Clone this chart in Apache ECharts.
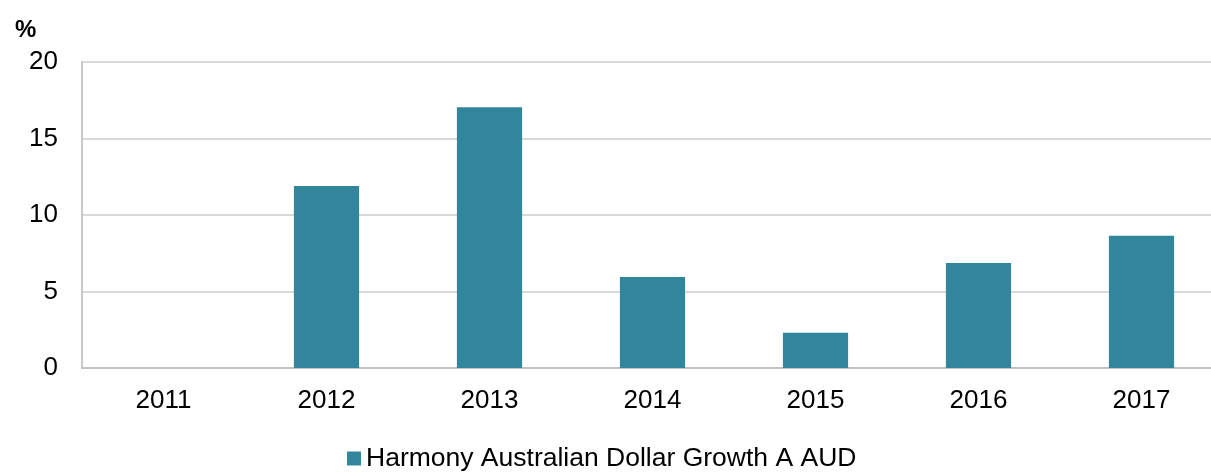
<!DOCTYPE html>
<html>
<head>
<meta charset="utf-8">
<script src="https://cdn.jsdelivr.net/npm/echarts@6/dist/echarts.min.js"></script>
<style>
  html, body { margin: 0; padding: 0; background: #fff; }
  #chart { width: 1211px; height: 473px; }
</style>
</head>
<body>
<div id="chart"></div>
<script>
const years = ['2011', '2012', '2013', '2014', '2015', '2016', '2017']
const growth = [null, 11.9, 17.05, 5.95, 2.3, 6.87, 8.65]
const seriesName = 'Harmony Australian Dollar Growth A AUD'

const chart = echarts.init(document.getElementById('chart'))

chart.setOption({
  animation: false,
  textStyle: { fontFamily: 'Liberation Sans, Arial, sans-serif' },
  title: {
    text: '%',
    left: 10,
    top: 13,
    textStyle: { fontSize: 24, fontWeight: 'bold', color: '#000' }
  },
  legend: {
    bottom: -4,
    left: 342,
    itemWidth: 14,
    itemHeight: 14,
    itemGap: 10,
    icon: 'rect',
    textStyle: { fontSize: 26.5, color: '#000' },
    data: [seriesName]
  },
  // plot runs past the right edge of the picture
  grid: { left: 82, width: 1141, top: 62, height: 306, outerBoundsMode: 'none' },
  xAxis: {
    type: 'category',
    data: years,
    axisLine: { lineStyle: { color: '#c0c0c0', width: 2 } },
    axisTick: { show: false },
    axisLabel: { color: '#000', fontSize: 26, margin: 20 }
  },
  yAxis: {
    type: 'value',
    min: 0,
    max: 20,
    interval: 5,
    axisLine: { show: true, lineStyle: { color: '#c8c8c8', width: 2 } },
    axisTick: { show: false },
    axisLabel: { color: '#000', fontSize: 26, margin: 24 },
    splitLine: { lineStyle: { color: '#d9d9d9', width: 2 } }
  },
  series: [{
    name: seriesName,
    type: 'bar',
    data: growth,
    barWidth: '40%',
    itemStyle: { color: '#32869c' }
  }]
})
</script>
</body>
</html>
